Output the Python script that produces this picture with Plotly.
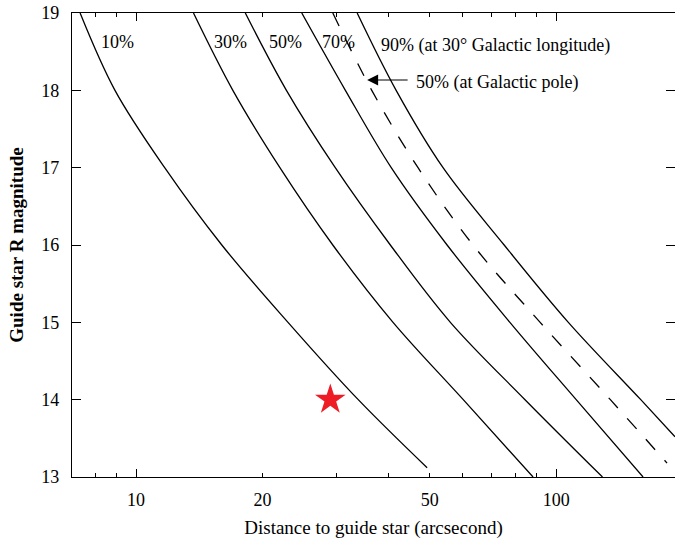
import numpy as np
import plotly.graph_objects as go

# ---- data ----
mag = [19, 18, 17, 16, 15, 14, 13]
d10 = [7.36, 8.91, 11.7, 16.0, 23.0, 33.8, 49.3]
m10 = [19, 18, 17, 16, 15, 14, 13.12]
d30 = [13.7, 17.0, 22.0, 29.4, 40.9, 60.1, 88.1]
d50 = [18.2, 22.8, 29.8, 40.3, 56.0, 84.3, 128.9]
d70 = [24.8, 31.5, 40.5, 55.0, 77.6, 111.6, 161.0]
d90 = [33.6, 41.6, 53.8, 75.2, 106.9, 159.0, 191.8]
m90 = [19, 18, 17, 16, 15, 14, 13.52]
dpole = [29.4, 36.4, 46.9, 63.4, 91.6, 134.6, 183.6]
mpole = [19, 18, 17, 16, 15, 14, 13.18]
star_x = [29.0]
star_y = [14.0]

x_major = [10, 20, 50, 100]
x_long = [10, 100]
x_minor = [7, 8, 9, 30, 40, 60, 70, 80, 90]
y_ticks = [13, 14, 15, 16, 17, 18, 19]

FONT = 'Liberation Serif, "Times New Roman", Times, serif'
line = dict(color="black", width=1.3, shape="spline", smoothing=1.0)

fig = go.Figure()
for xs, ys in [(d10, m10), (d30, mag), (d50, mag), (d70, mag), (d90, m90)]:
    fig.add_trace(go.Scatter(x=xs, y=ys, mode="lines", line=line, hoverinfo="skip"))
fig.add_trace(go.Scatter(x=dpole, y=mpole, mode="lines",
                         line=dict(color="black", width=1.3, dash="14px,14px",
                                   shape="spline", smoothing=1.0)))
fig.add_trace(go.Scatter(x=star_x, y=star_y, mode="markers",
                         marker=dict(symbol="star", size=23, color="#ee1c25",
                                     line=dict(width=0))))
# invisible trace carrying the long-tick overlay axis
fig.add_trace(go.Scatter(x=[10], y=[16], xaxis="x2", mode="markers",
                         marker=dict(opacity=0), hoverinfo="skip"))

xr = [np.log10(7.04), np.log10(191.8)]
fig.update_layout(
    width=675, height=539,
    margin=dict(l=72, r=0, t=13, b=62),
    paper_bgcolor="white", plot_bgcolor="white",
    showlegend=False,
    font=dict(family=FONT, size=18, color="black"),
    xaxis=dict(type="log", range=xr, tickvals=x_major, ticktext=[str(v) for v in x_major],
               ticks="inside", ticklen=4, tickwidth=1, tickcolor="black",
               minor=dict(tickvals=x_minor, ticks="inside", ticklen=4, tickcolor="black"),
               showline=True, linecolor="black", linewidth=1.3, mirror="ticks",
               showgrid=False, zeroline=False, ticklabelstandoff=6,
               title=dict(text="Distance to guide star (arcsecond)", font=dict(size=19),
                          standoff=12)),
    xaxis2=dict(type="log", range=xr, overlaying="x", side="bottom", anchor="y",
                tickvals=x_long, ticks="inside", ticklen=8, tickwidth=1,
                tickcolor="black", showticklabels=False, showgrid=False,
                zeroline=False, showline=False, mirror="ticks"),
    yaxis=dict(range=[13, 19], tickvals=y_ticks, ticks="inside", ticklen=9,
               tickwidth=1, tickcolor="black", showline=True, linecolor="black",
               linewidth=1.3, mirror="ticks", showgrid=False, zeroline=False,
               ticklabelstandoff=8,
               title=dict(text="<b>Guide star R magnitude</b>", font=dict(size=19),
                          standoff=12)),
)

labels = [
    ("10%", 100, 42),
    ("30%", 213, 42),
    ("50%", 268, 42),
    ("70%", 321, 42),
    ("90% (at 30° Galactic longitude)", 380, 45),
    ("50% (at Galactic pole)", 415, 82),
]
def px2x(px):
    return 1 + (px - 136) / 420.0
def px2y(py):
    return 19 - (py - 13) / 77.33

for txt, px, py in labels:
    fig.add_annotation(x=px2x(px), y=px2y(py), text=txt, showarrow=False,
                       xanchor="left", yanchor="middle", font=dict(size=18),
                       borderpad=0)

fig.add_annotation(x=px2x(367), y=px2y(80), ax=42, ay=0, text="", showarrow=True,
                   arrowhead=2, arrowsize=2.0, arrowwidth=1.1, arrowcolor="black",
                   standoff=0)

fig.write_html("out.html")
